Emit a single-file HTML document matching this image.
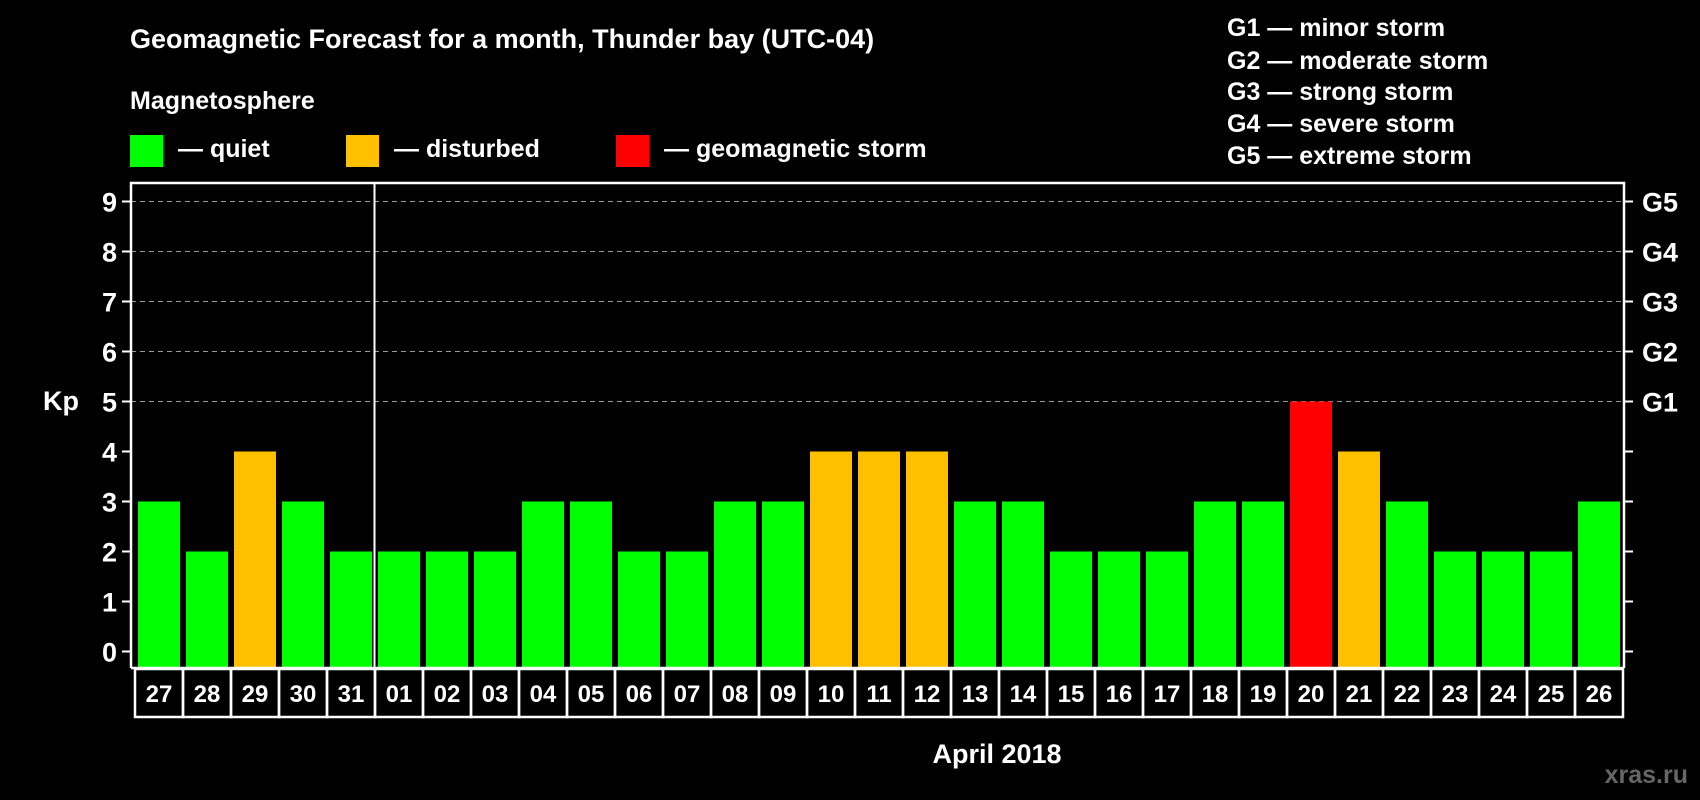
<!DOCTYPE html>
<html><head><meta charset="utf-8"><style>
html,body{margin:0;padding:0;background:#000;width:1700px;height:800px;overflow:hidden}
svg{display:block;font-family:"Liberation Sans",Arial,sans-serif;font-weight:bold}
</style></head><body>
<svg id="chart" width="1700" height="800" viewBox="0 0 1700 800">
<rect width="1700" height="800" fill="#000"/>
<text x="130" y="48" fill="#fff" font-size="27">Geomagnetic Forecast for a month, Thunder bay (UTC-04)</text>
<text x="130" y="109" fill="#fff" font-size="25">Magnetosphere</text>
<g><rect x="130" y="135" width="33" height="32" fill="#00ff00"/><text x="178" y="157" fill="#fff" font-size="25">— quiet</text></g>
<g><rect x="346" y="135" width="33" height="32" fill="#ffc000"/><text x="394" y="157" fill="#fff" font-size="25">— disturbed</text></g>
<g><rect x="616" y="135" width="33" height="32" fill="#ff0000"/><text x="664" y="157" fill="#fff" font-size="25">— geomagnetic storm</text></g>
<g fill="#fff" font-size="25">
<text x="1227" y="36">G1 — minor storm</text>
<text x="1227" y="69">G2 — moderate storm</text>
<text x="1227" y="100">G3 — strong storm</text>
<text x="1227" y="132">G4 — severe storm</text>
<text x="1227" y="164">G5 — extreme storm</text>
</g>
<text x="43" y="410" fill="#fff" font-size="27">Kp</text>
<text x="997" y="763" fill="#fff" font-size="27" text-anchor="middle">April 2018</text>
<text x="1688" y="783" fill="#666" font-size="25" text-anchor="end">xras.ru</text>
<g id="grid"></g><g id="bars"></g><g id="axes"></g><g id="days"></g>
</svg>
<script>
const days = ["27","28","29","30","31","01","02","03","04","05","06","07","08","09","10","11","12","13","14","15","16","17","18","19","20","21","22","23","24","25","26"];
const kpValues = [3,2,4,3,2,2,2,2,3,3,2,2,3,3,4,4,4,3,3,2,2,2,3,3,5,4,3,2,2,2,3];
const yTicks = [0,1,2,3,4,5,6,7,8,9];
const gLabels = ["","","","","","G1","G2","G3","G4","G5"];
const NS="http://www.w3.org/2000/svg";
const X0=135, PITCH=48, BW=42, Y0=651.5, UNIT=50, FL=131, FR=1624, FT=183, FB=668;
const xs = i => X0 + i*PITCH;
const ys = v => Y0 - v*UNIT;
function mk(tag, attrs, parent){const e=document.createElementNS(NS,tag);for(const k in attrs)e.setAttribute(k,attrs[k]);parent.appendChild(e);return e;}
const grid=document.getElementById('grid'), bars=document.getElementById('bars'), axes=document.getElementById('axes'), dg=document.getElementById('days');
yTicks.forEach((t,i)=>{
  if(t>=5){const l=mk('line',{x1:FL,x2:FR,y1:ys(t),y2:ys(t),stroke:'#999','stroke-width':1,'stroke-dasharray':'5,4'},grid);
  
  }
  const tl=mk('line',{x1:FL-9,x2:FL,y1:ys(t),y2:ys(t),stroke:'#fff','stroke-width':2},axes);
  
  
  const tr=mk('line',{x1:FR,x2:FR+9,y1:ys(t),y2:ys(t),stroke:'#fff','stroke-width':2},axes);
  
  
  const tx=mk('text',{x:FL-14,y:ys(t)+10,fill:'#fff','font-size':27,'text-anchor':'end'},axes);
  tx.textContent=t;
  
  
  if(gLabels[i]){const g=mk('text',{x:FR+18,y:ys(t)+10,fill:'#fff','font-size':27},axes);
  g.textContent=gLabels[i];
  
  }
});
kpValues.forEach((v,i)=>{
  const c = v>=5?'#ff0000':(v>=4?'#ffc000':'#00ff00');
  const b=mk('rect',{x:xs(i)+3,y:ys(v),width:BW,height:FB-ys(v),fill:c},bars);
  
  
  const cell=mk('rect',{x:xs(i),y:669,width:PITCH,height:48,fill:'none',stroke:'#fff','stroke-width':2.5},dg);
  
  
  const t=mk('text',{x:xs(i)+PITCH/2,y:702,fill:'#fff','font-size':24,'text-anchor':'middle'},dg);
  t.textContent=days[i];
  
  
});
const sep=mk('line',{x1:xs(5)-0.5,x2:xs(5)-0.5,y1:FT,y2:FB,stroke:'#fff','stroke-width':2},axes);


const fr=mk('path',{d:`M${FL} ${FB} V${FT} H${FR} V${FB}`,fill:'none',stroke:'#fff','stroke-width':2.5},axes);


const bl=mk('line',{x1:FL,x2:FR,y1:FB,y2:FB,stroke:'#fff','stroke-width':2.5},axes);


</script>
</body></html>
